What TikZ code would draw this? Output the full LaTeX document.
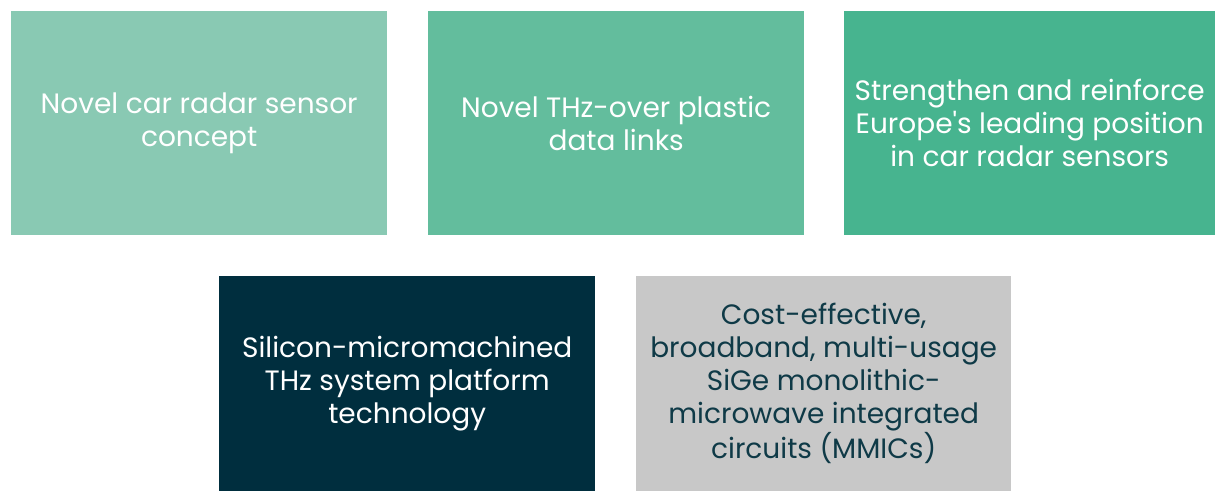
\documentclass[tikz,border=0pt]{standalone}
\usepackage{fontspec}
\setmainfont{Poppins}
\usepackage{tikz}
\definecolor{greenA}{HTML}{89C9B3}
\definecolor{greenB}{HTML}{63BD9D}
\definecolor{greenC}{HTML}{47B48F}
\definecolor{navy}{HTML}{002E3E}
\definecolor{greyBox}{HTML}{C8C8C8}
\definecolor{navyText}{HTML}{0F3A47}

\begin{document}
\begin{tikzpicture}[x=1pt, y=-1pt, box/.style={anchor=north west, inner sep=0pt, minimum width=376pt, minimum height=224pt, align=center, text=white, font=\fontsize{28}{33}\selectfont}]
\useasboundingbox (0,0) rectangle (1215,491);
\node[box, fill=greenA] (radar) at (11,11) {Novel car radar sensor\\concept};
\node[box, fill=greenB] (links) at (428,11) {Novel THz-over plastic\\data links};
\node[box, fill=greenC, minimum width=371pt] (europe) at (844,11) {Strengthen and reinforce\\Europe\textquotesingle s leading position\\in car radar sensors};
\node[box, fill=navy, minimum height=215pt] (platform) at (219,276) {Silicon-micromachined\\THz system platform\\technology};
\node[box, fill=greyBox, text=navyText, minimum width=375pt, minimum height=215pt] (mmic) at (636,276) {Cost-effective,\\broadband, multi-usage\\SiGe monolithic-\\microwave integrated\\circuits (MMICs)};
\end{tikzpicture}
\end{document}
